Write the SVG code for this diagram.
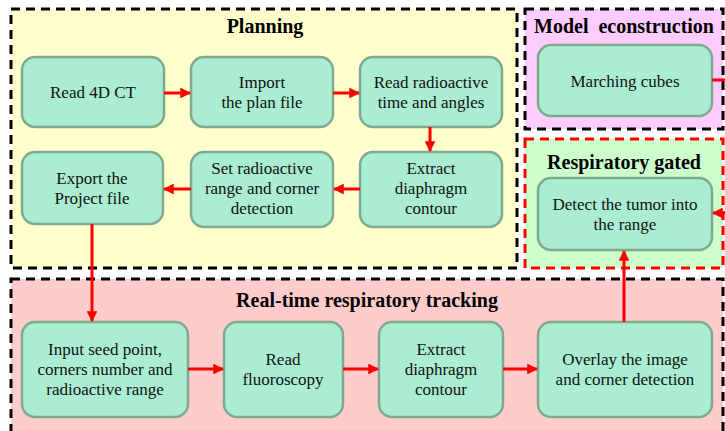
<svg xmlns="http://www.w3.org/2000/svg" width="725" height="431" viewBox="0 0 725 431">
<style>
.reg{stroke-width:3;stroke-dasharray:9 6}
.blk{stroke:#000}
.red{stroke:#FF0000}
.node rect{fill:#AAEDD2;stroke:#80AA90;stroke-width:2.5}
.title{font-family:"Liberation Serif","Times New Roman",serif;font-weight:bold;font-size:20px;fill:#000;text-anchor:middle}
.t{font-family:"Liberation Serif","Times New Roman",serif;font-size:17px;fill:#111;text-anchor:middle}
.c{fill:none;stroke:#FF0000;stroke-width:3}
</style>
<defs>
<marker id="ah" viewBox="0 0 10 10" refX="9" refY="5" markerWidth="3.6" markerHeight="3.6" orient="auto" markerUnits="strokeWidth">
<path d="M0,0 L10,5 L0,10 z" fill="#FF0000"/>
</marker>
</defs>
<rect width="725" height="431" fill="#fff"/>
<g id="regions">
<rect class="reg blk" x="11" y="9" width="506" height="259" fill="#FFFFCC"/>
<rect class="reg blk" x="525" y="9" width="198" height="120" fill="#FFCCFF"/>
<rect class="reg red" x="525" y="139" width="198" height="129" fill="#CCFFCC"/>
<rect class="reg blk" x="11" y="279" width="712" height="160" fill="#FFCCCC"/>
<text class="title" x="265" y="33">Planning</text>
<text class="title" x="624" y="33" xml:space="preserve">Model  econstruction</text>
<text class="title" x="624" y="169">Respiratory gated</text>
<text class="title" x="367" y="307">Real-time respiratory tracking</text>
</g>
<g id="n1" class="node"><rect x="22" y="57" width="142" height="70" rx="13"/><text class="t" x="93" y="98">Read 4D CT</text></g>
<g id="n2" class="node"><rect x="191" y="57" width="142" height="70" rx="13"/><text class="t" x="262" y="88">Import</text><text class="t" x="262" y="108">the plan file</text></g>
<g id="n3" class="node"><rect x="360" y="57" width="142" height="70" rx="13"/><text class="t" x="431" y="88">Read radioactive</text><text class="t" x="431" y="108">time and angles</text></g>
<g id="n4" class="node"><rect x="360" y="152" width="142" height="75" rx="13"/><text class="t" x="431" y="174">Extract</text><text class="t" x="431" y="194">diaphragm</text><text class="t" x="431" y="214">contour</text></g>
<g id="n5" class="node"><rect x="191" y="152" width="142" height="75" rx="13"/><text class="t" x="262" y="174">Set radioactive</text><text class="t" x="262" y="194">range and corner</text><text class="t" x="262" y="214">detection</text></g>
<g id="n6" class="node"><rect x="22" y="152" width="141" height="72" rx="13"/><text class="t" x="92" y="184">Export the</text><text class="t" x="92" y="204">Project file</text></g>
<g id="n7" class="node"><rect x="538" y="45" width="174" height="71" rx="13"/><text class="t" x="625" y="87">Marching cubes</text></g>
<g id="n8" class="node"><rect x="538" y="178" width="174" height="72" rx="13"/><text class="t" x="625" y="210">Detect the tumor into</text><text class="t" x="625" y="230">the range</text></g>
<g id="n9" class="node"><rect x="22" y="322" width="166" height="95" rx="13"/><text class="t" x="105" y="355">Input seed point,</text><text class="t" x="105" y="375">corners number and</text><text class="t" x="105" y="395">radioactive range</text></g>
<g id="n10" class="node"><rect x="224" y="322" width="119" height="95" rx="13"/><text class="t" x="283" y="365">Read</text><text class="t" x="283" y="385">fluoroscopy</text></g>
<g id="n11" class="node"><rect x="379" y="322" width="124" height="95" rx="13"/><text class="t" x="441" y="355">Extract</text><text class="t" x="441" y="375">diaphragm</text><text class="t" x="441" y="395">contour</text></g>
<g id="n12" class="node"><rect x="538" y="322" width="174" height="95" rx="13"/><text class="t" x="625" y="365">Overlay the image</text><text class="t" x="625" y="385">and corner detection</text></g>
<g id="connectors">
<path class="c" d="M164,93 H190" marker-end="url(#ah)"/>
<path class="c" d="M333,93 H359" marker-end="url(#ah)"/>
<path class="c" d="M430,127 V151" marker-end="url(#ah)"/>
<path class="c" d="M360,189 H334" marker-end="url(#ah)"/>
<path class="c" d="M191,189 H164" marker-end="url(#ah)"/>
<path class="c" d="M92,224 V321" marker-end="url(#ah)"/>
<path class="c" d="M188,369 H223" marker-end="url(#ah)"/>
<path class="c" d="M343,369 H378" marker-end="url(#ah)"/>
<path class="c" d="M503,369 H537" marker-end="url(#ah)"/>
<path class="c" d="M624,322 V251" marker-end="url(#ah)"/>
<path class="c" d="M712,80 H728 V213 H713" marker-end="url(#ah)"/>
</g>
</svg>
